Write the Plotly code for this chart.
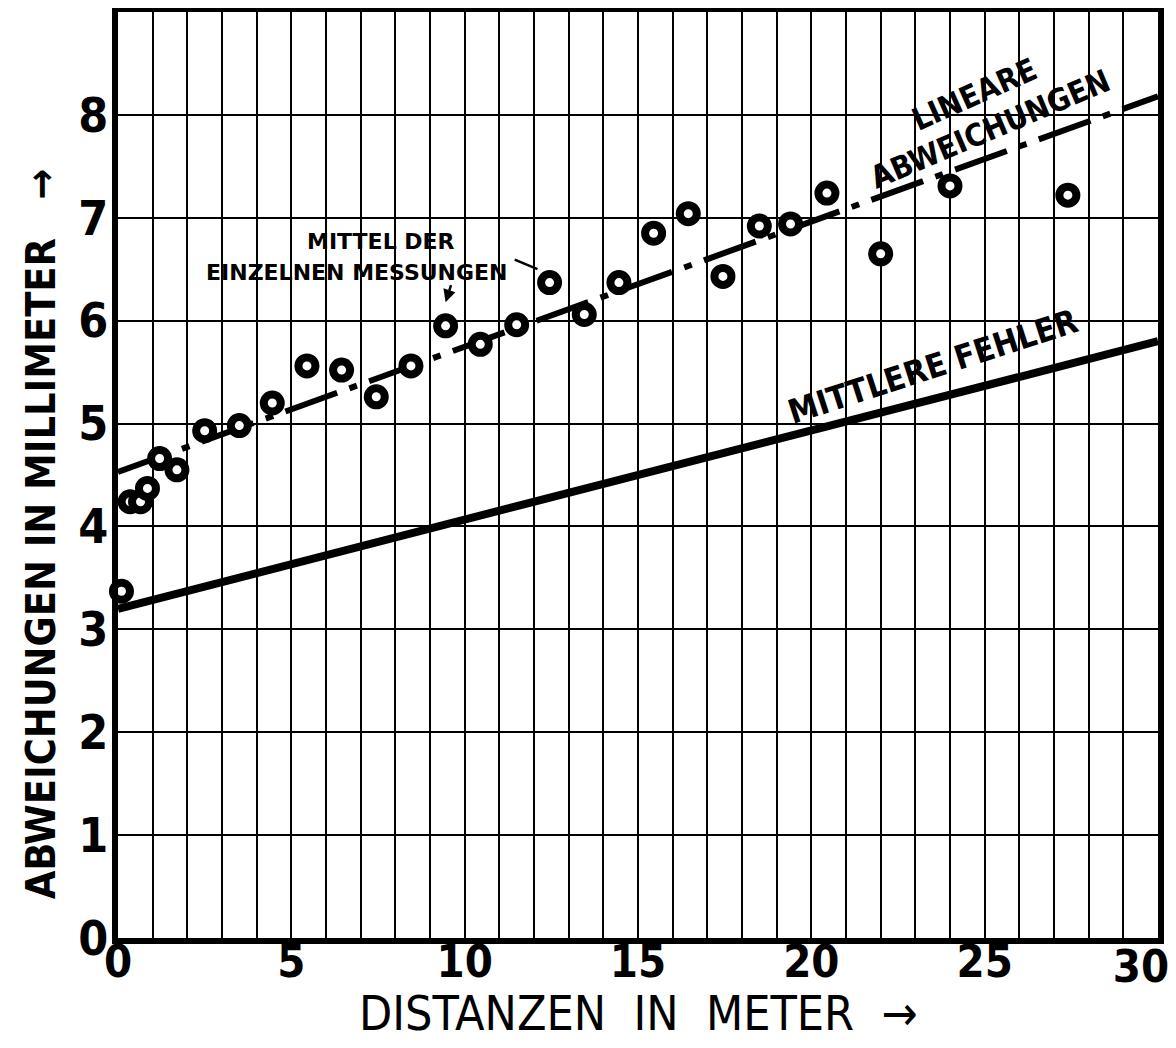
import plotly.graph_objects as go

# Measured points: "Mittel der einzelnen Messungen"
dist_m = [0.1, 0.35, 0.65, 0.85, 1.2, 1.7, 2.5, 3.5, 4.45, 5.45, 6.45, 7.45, 8.45, 9.45,
          10.45, 11.5, 12.45, 13.45, 14.45, 15.45, 16.45, 17.45, 18.5, 19.4, 20.45, 22.0, 24.0, 27.4]
abw_mm = [3.37, 4.24, 4.24, 4.37, 4.66, 4.55, 4.93, 4.98, 5.2, 5.56, 5.52, 5.26, 5.56, 5.95,
          5.77, 5.96, 6.37, 6.06, 6.37, 6.85, 7.04, 6.43, 6.92, 6.94, 7.24, 6.65, 7.31, 7.22]

# Lines
line_x = [0, 30]
lineare_abw = [4.53, 8.18]
mittlere_fehler = [3.2, 5.8]

x_ticks = list(range(0, 31))
x_ticktext = [str(v) if v % 5 == 0 and v < 30 else "" for v in x_ticks]
x_last_tick = [30]
x_last_text = ["30"]
y_ticks = list(range(0, 9))

FONT = "DejaVu Sans Condensed"

fig = go.Figure()

fig.add_trace(go.Scatter(x=line_x, y=mittlere_fehler, mode="lines", xaxis="x2",
                         line=dict(color="black", width=8), showlegend=False, hoverinfo="skip"))
fig.add_trace(go.Scatter(x=line_x, y=lineare_abw, mode="lines",
                         line=dict(color="black", width=6, dash="55px,13px,8px,13px"),
                         showlegend=False, hoverinfo="skip"))
fig.add_trace(go.Scatter(x=dist_m, y=abw_mm, mode="markers",
                         marker=dict(symbol="circle", size=17, color="white",
                                     line=dict(color="black", width=8)),
                         showlegend=False, cliponaxis=False))

ann = []
# y axis title
ann.append(dict(text="ABWEICHUNGEN IN MILLIMETER   →", xref="paper", yref="paper",
                x=-0.074, y=0.436, xanchor="center", yanchor="middle", textangle=-90,
                showarrow=False, font=dict(family=FONT, size=41, color="black", weight="bold")))
# x axis title
ann.append(dict(text="DISTANZEN  IN  METER  →", xref="paper", yref="paper",
                x=0.5, y=-0.081, xanchor="center", yanchor="middle",
                showarrow=False, font=dict(family=FONT, size=48, color="black")))
# labels in plot
ann.append(dict(text="MITTEL DER", x=7.6, y=6.77, showarrow=False,
                font=dict(family="DejaVu Sans", size=22, color="black", weight="bold")))
ann.append(dict(text="EINZELNEN MESSUNGEN", x=6.9, y=6.47, showarrow=False,
                font=dict(family="DejaVu Sans", size=22, color="black", weight="bold")))
ann.append(dict(text="LINEARE", x=24.72, y=8.2, textangle=-24, showarrow=False,
                font=dict(family=FONT, size=31, color="black", weight="bold")))
ann.append(dict(text="ABWEICHUNGEN", x=25.15, y=7.86, textangle=-23, showarrow=False,
                font=dict(family=FONT, size=31, color="black", weight="bold")))
ann.append(dict(text="MITTLERE FEHLER", x=23.5, y=5.55, textangle=-18, showarrow=False,
                font=dict(family=FONT, size=33, color="black", weight="bold")))
# small pointer arrows
ann.append(dict(text="", x=9.45, y=6.18, ax=9.62, ay=6.36, axref="x", ayref="y",
                showarrow=True, arrowhead=2, arrowsize=1, arrowwidth=2.5, arrowcolor="black"))
ann.append(dict(text="", x=12.1, y=6.5, ax=11.4, ay=6.6, axref="x", ayref="y",
                showarrow=True, arrowhead=0, arrowwidth=2.5, arrowcolor="black"))

tickfont_x = dict(family=FONT, size=45, color="black", weight="bold")

fig.update_layout(
    width=1160, height=1032,
    margin=dict(l=110, r=10, t=4, b=102, autoexpand=False),
    paper_bgcolor="white", plot_bgcolor="white",
    annotations=ann,
    xaxis=dict(range=[0, 30], tickvals=x_ticks, ticktext=x_ticktext,
               showgrid=True, gridcolor="black", gridwidth=2,
               showline=True, linecolor="black", linewidth=6, mirror=True,
               zeroline=False, ticks="", ticklabelstandoff=-21,
               automargin=False, tickfont=tickfont_x),
    xaxis2=dict(range=[0, 30], overlaying="x", side="bottom", anchor="y",
                tickvals=x_last_tick, ticktext=x_last_text,
                showgrid=False, showline=False, zeroline=False, ticks="",
                ticklabelstandoff=-2, ticklabelshift=-17, ticklabeloverflow="allow",
                automargin=False, tickfont=tickfont_x),
    yaxis=dict(range=[0, 9], tickvals=y_ticks,
               showgrid=True, gridcolor="black", gridwidth=2,
               showline=True, linecolor="black", linewidth=6, mirror=True,
               zeroline=False, ticks="", ticklabelstandoff=-6, automargin=False,
               tickfont=dict(family=FONT, size=48, color="black", weight="bold")),
)

fig.write_html("out.html")
